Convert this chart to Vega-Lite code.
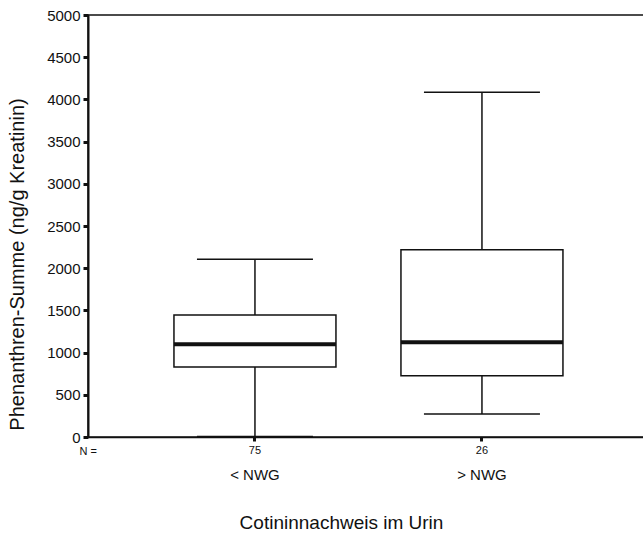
{
  "$schema": "https://vega.github.io/schema/vega-lite/v6.json",
  "width": 557,
  "height": 422,
  "autosize": {"type": "none"},
  "padding": {"left": 88, "top": 15, "right": 0, "bottom": 96},
  "background": "white",
  "config": {
    "view": {"stroke": "#111", "strokeWidth": 1.5},
    "font": "Liberation Sans",
    "axis": {"grid": false, "labelColor": "#111", "titleColor": "#111", "domainColor": "#111", "tickColor": "#111", "titleFontWeight": "normal", "labelFont": "Liberation Sans", "titleFont": "Liberation Sans"},
    "axisY": {"values": [0, 500, 1000, 1500, 2000, 2500, 3000, 3500, 4000, 4500, 5000], "format": "d", "labelFontSize": 15, "tickSize": 5, "tickWidth": 3, "domainWidth": 2, "labelPadding": 3, "titleFontSize": 20, "titleX": -71, "titleY": 249, "titleAlign": "center", "titleBaseline": "middle"}
  },
  "data": {"values": [
    {"group": "< NWG", "n": "75", "min": 5, "q1": 829, "median": 1100, "q3": 1445, "max": 2105},
    {"group": "> NWG", "n": "26", "min": 272, "q1": 726, "median": 1122, "q3": 2218, "max": 4085}
  ]},
  "resolve": {"scale": {"x": "independent"}, "axis": {"x": "independent"}},
  "layer": [
    {
      "layer": [
        {
          "mark": {"type": "rule", "color": "#111", "strokeWidth": 1.5},
          "encoding": {
            "y": {"field": "min", "type": "quantitative", "title": "Phenanthren-Summe (ng/g Kreatinin)", "scale": {"domain": [0, 5000], "nice": false}},
            "y2": {"field": "q1"}
          }
        },
        {
          "mark": {"type": "rule", "color": "#111", "strokeWidth": 1.5},
          "encoding": {
            "y": {"field": "q3", "type": "quantitative", "title": "Phenanthren-Summe (ng/g Kreatinin)", "scale": {"domain": [0, 5000], "nice": false}},
            "y2": {"field": "max"}
          }
        },
        {
          "mark": {"type": "bar", "size": 162, "fill": "white", "stroke": "#111", "strokeWidth": 1.5, "opacity": 1},
          "encoding": {
            "y": {"field": "q1", "type": "quantitative", "title": "Phenanthren-Summe (ng/g Kreatinin)", "scale": {"domain": [0, 5000], "nice": false}},
            "y2": {"field": "q3"}
          }
        },
        {
          "mark": {"type": "tick", "size": 116, "thickness": 1.5, "color": "#111", "opacity": 1},
          "encoding": {
            "y": {"field": "min", "type": "quantitative", "title": "Phenanthren-Summe (ng/g Kreatinin)", "scale": {"domain": [0, 5000], "nice": false}}
          }
        },
        {
          "mark": {"type": "tick", "size": 116, "thickness": 1.5, "color": "#111", "opacity": 1},
          "encoding": {
            "y": {"field": "max", "type": "quantitative", "title": "Phenanthren-Summe (ng/g Kreatinin)", "scale": {"domain": [0, 5000], "nice": false}}
          }
        }
      ],
      "encoding": {
        "x": {"field": "group", "type": "nominal", "sort": null, "title": "Cotininnachweis im Urin",
          "scale": {"paddingInner": 0, "paddingOuter": 0.2269, "align": 0.519},
          "axis": {"orient": "bottom", "domain": false, "ticks": false, "labelAngle": 0, "labelFontSize": 15, "labelPadding": 30, "titleFontSize": 19, "titleX": 253, "titleY": 85, "titleAlign": "center", "titleBaseline": "middle"}}
      }
    },
    {
      "mark": {"type": "tick", "size": 162, "thickness": 4, "color": "#111", "opacity": 1},
      "encoding": {
        "x": {"field": "n", "type": "nominal", "sort": null, "title": "N =",
          "scale": {"paddingInner": 0, "paddingOuter": 0.2269, "align": 0.519},
          "axis": {"orient": "bottom", "domain": true, "domainWidth": 1.5, "ticks": true, "tickSize": 4, "tickWidth": 3, "labelAngle": 0, "labelFontSize": 11, "labelPadding": 3, "titleFontSize": 11, "titleX": -9, "titleY": 14, "titleAlign": "left", "titleBaseline": "middle"}},
        "y": {"field": "median", "type": "quantitative", "title": "Phenanthren-Summe (ng/g Kreatinin)", "scale": {"domain": [0, 5000], "nice": false}}
      }
    }
  ]
}
